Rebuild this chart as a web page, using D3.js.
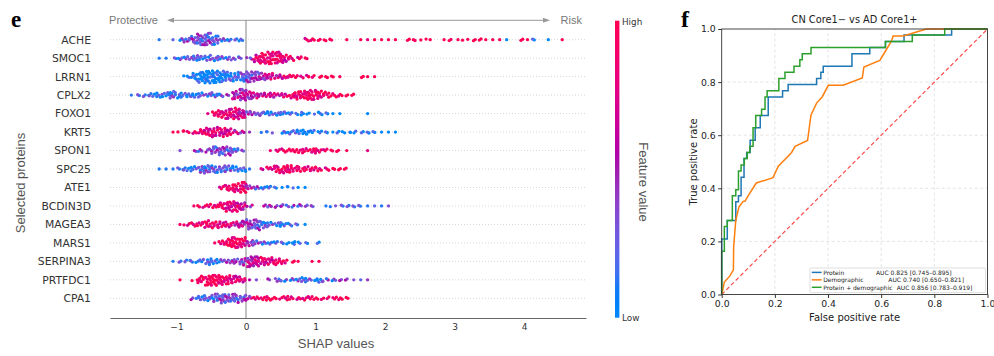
<!DOCTYPE html>
<html>
<head>
<meta charset="utf-8">
<script src="https://cdn.jsdelivr.net/npm/d3@7"></script>
<style>
  body { margin: 0; background: #fff; }
  text { font-family: "DejaVu Sans", sans-serif; }
  .sans { font-family: "Liberation Sans", Arial, sans-serif; }
  .panel { font-family: "Liberation Serif", serif; font-weight: bold; }
</style>
</head>
<body>
<svg id="chart" width="994" height="356"></svg>
<script>
// ---- panel e: SHAP beeswarm, values read as dot counts per 0.1 bin ----
const proteins = ['ACHE', 'SMOC1', 'LRRN1', 'CPLX2', 'FOXO1', 'KRT5', 'SPON1', 'SPC25',
  'ATE1', 'BCDIN3D', 'MAGEA3', 'MARS1', 'SERPINA3', 'PRTFDC1', 'CPA1']
const binWidth = 0.1
const binStart = [-1.3, -1.3, -0.9, -1.7, -0.6, -1.1, -1.0, -1.3, -0.4, -0.8, -1.0, -0.5, -1.1, -1.0, -0.8]
// number of dots in each bin
const binCounts = [
  [1,0,1,3,5,8,13,14,10,4,3,2,3,0,0,0,0,0,0,0,0,3,3,2,2,2,0,1,0,1,1,1,1,1,1,0,2,2,2,1,0,1,2,1,2,2,2,1,1,1,1,0,2,1,2,0,1,0,1],
  [1,1,2,3,4,5,6,6,5,4,4,3,2,3,8,12,14,13,9,5,3,2],
  [3,7,12,14,14,13,10,9,10,12,11,8,7,5,4,4,3,3,3,2,2,2,1,0,0,2,1,1],
  [1,2,3,4,5,6,8,6,5,5,5,4,5,3,2,9,13,10,6,5,5,4,5,6,9,10,11,9,6,4,3,2,2],
  [1,5,8,11,13,10,5,4,4,5,4,4,3,3,3,2,3,2,1,1,0,0,0,1],
  [1,2,3,3,6,9,10,10,8,4,3,1,0,2,2,0,3,4,5,5,4,3,2,1,3,2,3,2,2,2,1,1,1],
  [1,0,2,3,4,8,9,10,5,2,0,0,0,1,3,4,4,4,5,6,4,3,2,2,1,0,0,1],
  [1,1,1,3,4,5,7,9,8,7,7,6,5,1,0,2,4,8,9,8,6,5,5,4,3,2,2,2],
  [4,6,10,12,5,4,3,3,2,2,2,1,1],
  [1,3,4,4,7,11,12,8,3,0,2,3,3,3,3,3,2,2,0,1,2,2,2,2,2,1,1,1,1],
  [1,3,4,5,8,7,7,6,6,7,10,12,8,5,5,4,3,2,1],
  [1,5,9,12,11,6,5,4,3,3,3,3,3,2,0,2],
  [1,2,3,3,4,7,5,4,4,5,8,12,11,9,8,7,5,2,1,0,1,1],
  [1,0,2,8,11,12,11,10,8,6,1,1,0,2,4,3,3,4,5,3,5,3,3,2,2,1,1,1],
  [3,5,6,9,10,9,10,7,4,4,4,4,3,4,4,3,4,4,3,3,3,3,2]
]
// feature value of each bin, 0 = low ... 9 = high
const binLevels = [
  [1,0,2,2,3,3,3,3,2,2,1,1,1,0,0,0,0,0,0,0,0,8,9,8,9,8,0,9,0,9,7,9,9,9,9,0,9,8,9,9,0,9,8,9,9,9,9,9,9,9,0,9,9,9,0,9,0,9,9],
  [1,1,1,2,2,2,2,2,2,2,2,2,2,4,7,8,8,8,7,8,8,8],
  [0,0,0,0,0,0,1,1,2,3,4,5,6,6,7,8,8,8,9,9,9,9,9,0,0,9,9,9],
  [1,1,1,1,1,1,2,1,1,1,2,2,2,2,3,5,5,5,6,6,6,6,7,8,8,8,8,8,9,9,9,9,9],
  [7,8,8,7,7,6,4,2,2,1,1,1,1,0,0,0,0,0,0,0,0,0,0,0],
  [9,9,9,8,8,7,7,7,7,6,5,4,0,1,1,0,1,1,1,0,0,0,0,0,0,0,0,0,0,0,0,0,0],
  [3,3,3,3,3,3,3,3,2,2,0,0,0,8,8,8,8,9,8,8,8,8,8,9,9,0,0,7],
  [1,1,1,1,1,1,2,2,2,2,2,1,1,1,0,5,7,8,8,8,8,8,8,8,8,9,9,9],
  [8,8,8,8,5,3,1,1,0,0,0,0,0],
  [8,8,8,8,8,7,7,6,5,0,4,4,3,3,3,3,2,2,0,1,1,1,1,1,1,1,2,1,3],
  [8,8,8,8,8,8,7,7,6,5,4,3,2,2,1,1,1,1,0],
  [8,8,9,8,8,5,3,2,1,1,1,0,0,0,0,0],
  [1,1,1,1,1,1,1,2,3,4,4,5,6,7,7,8,8,9,9,9,9,9],
  [9,9,9,9,9,9,8,8,7,7,5,3,3,3,3,2,2,2,1,2,1,3,2,3,3,3,2,4],
  [3,2,2,2,3,3,3,3,5,8,9,9,9,8,8,8,8,8,9,9,9,9,9]
]
const shapTicks = [-1, 0, 1, 2, 3, 4]

// ---- panel f: ROC curves ----
const proteinFpr = [0, 0, .021, .053, .063, .073, .084, .094, .107, .126, .145, .175, .229, .25, .357, .373, .382, .49, .557, .616, .686, .865, 1]
const proteinTpr = [0, .209, .279, .349, .372, .442, .512, .535, .581, .628, .674, .744, .767, .791, .814, .837, .86, .907, .93, .953, .977, 1, 1]
const demoFpr = [0, .01, .031, .044, .045, .053, .065, .08, .088, .1, .13, .193, .213, .263, .276, .323, .336, .357, .378, .401, .457, .529, .535, .595, .618, .639, .645, .683, .77, 1]
const demoTpr = [0, .047, .07, .093, .18, .28, .33, .35, .352, .372, .42, .44, .483, .535, .558, .58, .676, .721, .744, .788, .788, .816, .857, .882, .92, .955, .974, .974, 1, 1]
const combFpr = [0, 0, .01, .021, .04, .053, .063, .073, .085, .096, .106, .118, .128, .15, .163, .171, .215, .238, .272, .294, .303, .336, .616, .717, .839, 1]
const combTpr = [0, .163, .256, .279, .372, .395, .465, .488, .512, .535, .558, .628, .674, .698, .744, .767, .814, .837, .86, .884, .907, .93, .953, .977, 1, 1]
const rocNames = ['Protein', 'Demographic', 'Protein + demographic']
const rocAuc = ['AUC 0.825 [0.745–0.895]', 'AUC 0.740 [0.650–0.821]', 'AUC 0.856 [0.783–0.919]']
const rocColors = ['#1f77b4', '#ff7f0e', '#2ca02c']
const rocTicks = [0, 0.2, 0.4, 0.6, 0.8, 1.0]

const svg = d3.select('#chart')

// ================= panel e =================
const x = d3.scaleLinear().domain([-1.957, 4.892]).range([110, 586])
const y = d3.scalePoint().domain(proteins).range([39.7, 298.3])

// blue -> purple -> red in LCh, darker in the middle (like shap's red_blue)
function featColor(t) {
  t = Math.max(0, Math.min(1, t))
  const h = 266.9 + t * (380.3 - 266.9)
  const c = 70 + 20 * t
  const l = t < 0.5 ? 54 - 28 * t : 40 + 28 * (t - 0.5)
  return d3.hcl(h % 360, c, l).formatHex()
}

svg.append('text').attr('class', 'panel').attr('x', 11).attr('y', 27)
  .attr('font-size', 23).text('e')

const e = svg.append('g')

// dotted row guides
e.selectAll('.guide')
  .data(proteins)
  .enter().append('line')
  .attr('class', 'guide')
  .attr('x1', 110).attr('x2', 586)
  .attr('y1', d => y(d)).attr('y2', d => y(d))
  .attr('stroke', '#ccc').attr('stroke-width', 0.8).attr('stroke-dasharray', '1,2')

// zero line
e.append('line')
  .attr('x1', x(0)).attr('x2', x(0)).attr('y1', 20.3).attr('y2', 318)
  .attr('stroke', '#999').attr('stroke-width', 1.2)

// protective / risk arrow
e.append('line')
  .attr('x1', 169).attr('x2', 548).attr('y1', 20.3).attr('y2', 20.3)
  .attr('stroke', '#999').attr('stroke-width', 1)
e.append('path').attr('d', 'M167,20.3L174,17.8L174,22.8Z').attr('fill', '#999')
e.append('path').attr('d', 'M550,20.3L543,17.8L543,22.8Z').attr('fill', '#999')
e.append('text').attr('class', 'sans').attr('x', 158).attr('y', 24.2)
  .attr('text-anchor', 'end').attr('font-size', 11).attr('fill', '#777').text('Protective')
e.append('text').attr('class', 'sans').attr('x', 560.5).attr('y', 24.2)
  .attr('font-size', 11).attr('fill', '#777').text('Risk')

// dots: each bin's dots fill a box whose height grows with the count
const shade = [0, 0.2, -0.2, 0.1, -0.1]
const a1 = 0.7548776662, a2 = 0.5698402910
proteins.forEach((p, r) => {
  const dots = []
  binCounts[r].forEach((n, b) => {
    const left = binStart[r] + b * binWidth
    for (let i = 0; i < n; i++) {
      const k = i + b * 17 + r * 5
      const px = n === 1 ? 0.5 : (0.5 + k * a1) % 1
      const py = n === 1 ? 0.5 : (0.5 + k * a2) % 1
      dots.push({ v: left + px * binWidth, dy: (py - 0.5) * n * 0.95, t: binLevels[r][b] / 9 + shade[i % 5] })
    }
  })
  e.append('g').selectAll('circle')
    .data(dots)
    .enter().append('circle')
    .attr('cx', d => x(d.v))
    .attr('cy', d => y(p) + d.dy)
    .attr('r', 1.65)
    .attr('fill', d => featColor(d.t))
})

// row labels
e.selectAll('.rowlabel')
  .data(proteins)
  .enter().append('text')
  .attr('class', 'rowlabel')
  .attr('x', 91).attr('y', d => y(d) + 3.9)
  .attr('text-anchor', 'end').attr('font-size', 10.8).attr('fill', '#333')
  .text(d => d)

// x axis
const xAxis = e.append('g')
  .attr('transform', 'translate(0,318)')
  .call(d3.axisBottom(x).tickValues(shapTicks).tickSize(0).tickPadding(6)
    .tickFormat(d => d < 0 ? '−' + Math.abs(d) : d))
xAxis.select('.domain').attr('stroke', '#666').attr('stroke-width', 1.2)
xAxis.selectAll('text').attr('font-size', 9).attr('fill', '#333')
  .attr('font-family', '"DejaVu Sans", sans-serif')

e.append('text').attr('class', 'sans').attr('x', 336).attr('y', 348.3)
  .attr('text-anchor', 'middle').attr('font-size', 13).attr('fill', '#555').text('SHAP values')
e.append('text').attr('class', 'sans')
  .attr('transform', 'translate(24.5,183) rotate(-90)')
  .attr('text-anchor', 'middle').attr('font-size', 13).attr('fill', '#555').text('Selected proteins')

// colour bar
const grad = svg.append('defs').append('linearGradient')
  .attr('id', 'featgrad').attr('x1', 0).attr('x2', 0).attr('y1', 1).attr('y2', 0)
d3.range(0, 1.0001, 0.05).forEach(t => {
  grad.append('stop').attr('offset', t).attr('stop-color', featColor(t))
})
svg.append('rect').attr('x', 615).attr('y', 20.7).attr('width', 4.4).attr('height', 297)
  .attr('fill', 'url(#featgrad)')
svg.append('text').attr('x', 622).attr('y', 24.5).attr('font-size', 8.8).attr('fill', '#333').text('High')
svg.append('text').attr('x', 622).attr('y', 320.8).attr('font-size', 8.8).attr('fill', '#333').text('Low')
svg.append('text').attr('class', 'sans')
  .attr('transform', 'translate(638.5,182) rotate(90)')
  .attr('text-anchor', 'middle').attr('font-size', 13).attr('fill', '#555').text('Feature value')

// ================= panel f =================
const fx = d3.scaleLinear().domain([0, 1]).range([721.7, 987.5])
const fy = d3.scaleLinear().domain([0, 1]).range([294.5, 29])

svg.append('text').attr('class', 'panel').attr('x', 681).attr('y', 26.5)
  .attr('font-size', 24).text('f')

const f = svg.append('g')

// grid
f.selectAll('.vgrid')
  .data(rocTicks.slice(1, 5))
  .enter().append('line')
  .attr('x1', d => fx(d)).attr('x2', d => fx(d)).attr('y1', fy(0)).attr('y2', fy(1))
  .attr('stroke', '#ddd').attr('stroke-width', 0.8).attr('stroke-dasharray', '3,2.5')
f.selectAll('.hgrid')
  .data(rocTicks.slice(1, 5))
  .enter().append('line')
  .attr('x1', fx(0)).attr('x2', fx(1)).attr('y1', d => fy(d)).attr('y2', d => fy(d))
  .attr('stroke', '#ddd').attr('stroke-width', 0.8).attr('stroke-dasharray', '3,2.5')

// chance line
f.append('line')
  .attr('x1', fx(0)).attr('y1', fy(0)).attr('x2', fx(1)).attr('y2', fy(1))
  .attr('stroke', '#ff4b4b').attr('stroke-width', 1.2).attr('stroke-dasharray', '4,2.6')

const stepLine = d3.line().x(d => fx(d[0])).y(d => fy(d[1])).curve(d3.curveStepAfter)
const plainLine = d3.line().x(d => fx(d[0])).y(d => fy(d[1]))

f.append('path').datum(d3.zip(proteinFpr, proteinTpr))
  .attr('d', stepLine).attr('fill', 'none').attr('stroke', rocColors[0]).attr('stroke-width', 1.5)
f.append('path').datum(d3.zip(demoFpr, demoTpr))
  .attr('d', plainLine).attr('fill', 'none').attr('stroke', rocColors[1]).attr('stroke-width', 1.5)
f.append('path').datum(d3.zip(combFpr, combTpr))
  .attr('d', stepLine).attr('fill', 'none').attr('stroke', rocColors[2]).attr('stroke-width', 1.5)

// frame and axes
f.append('rect').attr('x', fx(0)).attr('y', fy(1))
  .attr('width', fx(1) - fx(0)).attr('height', fy(0) - fy(1))
  .attr('fill', 'none').attr('stroke', '#333').attr('stroke-width', 0.9)

const fxAxis = f.append('g').attr('transform', `translate(0,${fy(0)})`)
  .call(d3.axisBottom(fx).tickValues(rocTicks).tickFormat(d3.format('.1f')).tickSize(3.5).tickPadding(2.5))
const fyAxis = f.append('g').attr('transform', `translate(${fx(0)},0)`)
  .call(d3.axisLeft(fy).tickValues(rocTicks).tickFormat(d3.format('.1f')).tickSize(3.5).tickPadding(2.5))
;[fxAxis, fyAxis].forEach(a => {
  a.select('.domain').remove()
  a.selectAll('line').attr('stroke', '#333')
  a.selectAll('text').attr('font-size', 9.3).attr('fill', '#222')
    .attr('font-family', '"DejaVu Sans", sans-serif')
})

f.append('text').attr('x', 854.6).attr('y', 23.3).attr('text-anchor', 'middle')
  .attr('font-size', 9.8).attr('fill', '#222').text('CN Core1− vs AD Core1+')
f.append('text').attr('x', 854.6).attr('y', 320.7).attr('text-anchor', 'middle')
  .attr('font-size', 10).attr('fill', '#222').text('False positive rate')
f.append('text').attr('transform', 'translate(696.5,162) rotate(-90)').attr('text-anchor', 'middle')
  .attr('font-size', 10).attr('fill', '#222').text('True positive rate')

// legend
const leg = f.append('g')
leg.append('rect').attr('x', 810).attr('y', 268).attr('width', 175.5).attr('height', 24.6)
  .attr('rx', 1.5).attr('fill', '#fff').attr('fill-opacity', 0.85)
  .attr('stroke', '#d0d0d0').attr('stroke-width', 0.7)
const aucX = [876, 888.3, 896.7]
rocNames.forEach((name, i) => {
  const ly = 272.4 + i * 7.45
  leg.append('line').attr('x1', 811.8).attr('x2', 821.6).attr('y1', ly).attr('y2', ly)
    .attr('stroke', rocColors[i]).attr('stroke-width', 1.5)
  leg.append('text').attr('x', 823.2).attr('y', ly + 2.2).attr('font-size', 6).attr('fill', '#222').text(name)
  leg.append('text').attr('x', aucX[i]).attr('y', ly + 2.2).attr('font-size', 6).attr('fill', '#222').text(rocAuc[i])
})
</script>
</body>
</html>
